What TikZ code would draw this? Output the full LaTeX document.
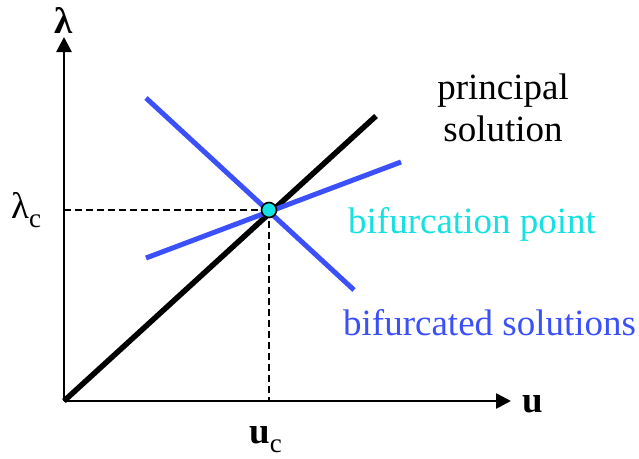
\documentclass[tikz,border=0pt]{standalone}
\usepackage{fontspec}
\setmainfont{Liberation Serif}
\usetikzlibrary{arrows.meta}
\definecolor{bifblue}{RGB}{60,80,250}
\definecolor{bifcyan}{RGB}{20,225,225}
\newcommand{\critsub}[1]{\raisebox{-9pt}{\fontsize{27}{30}\selectfont #1}}
\begin{document}
\begin{tikzpicture}[x=1pt,y=-1pt,
  lbl/.style={font=\fontsize{37}{42}\selectfont, inner sep=0pt},
  axis/.style={line width=2.6pt, -{Triangle[length=15pt,width=15pt]}},
  guide/.style={line width=1.8pt, dash pattern=on 7pt off 4pt},
  branch/.style={line width=5pt, bifblue}]
  \useasboundingbox (0,0) rectangle (639,458);
  % axes and points
  \coordinate (o) at (64,401);
  \coordinate (ytip) at (64,37);
  \coordinate (xtip) at (511,401);
  \coordinate (bp) at (269,210);
  \coordinate (bpx) at (64,210);
  \coordinate (bpu) at (269,401);
  \coordinate (prin) at (376,116);
  \coordinate (b1s) at (146,98);
  \coordinate (b1e) at (354,290);
  \coordinate (b2s) at (146,258);
  \coordinate (b2e) at (401,162);
  \draw[axis] (o) -- (ytip);
  \draw[axis] (o) -- (xtip);
  \draw[guide] (bpx) -- (bp);
  \draw[guide] (bp) -- (bpu);
  \draw[line width=5.5pt] (o) -- (prin);
  \draw[branch] (b1s) -- (b1e);
  \draw[branch] (b2s) -- (b2e);
  \node[circle, draw=black, line width=1.6pt, fill=bifcyan, minimum size=15pt, inner sep=0pt] (bpdot) at (bp) {};
  % labels
  \node[lbl, font=\fontsize{37}{42}\selectfont\bfseries] (lam) at (64,20) {λ};
  \node[lbl, font=\fontsize{37}{42}\selectfont\bfseries] (ulab) at (533,404) {u};
  \node[lbl, anchor=base west] (lamc) at (11,218) {λ\critsub{c}};
  \node[lbl, anchor=base west] (uc) at (249,443) {\textbf{u}\critsub{c}};
  \node[lbl, align=center] (princ) at (503,108) {principal\\solution};
  \node[lbl, text=bifcyan, anchor=base west] (bifpt) at (348,233) {bifurcation point};
  \node[lbl, text=bifblue, anchor=base west] (bifsol) at (343,335) {bifurcated solutions};
\end{tikzpicture}
\end{document}
